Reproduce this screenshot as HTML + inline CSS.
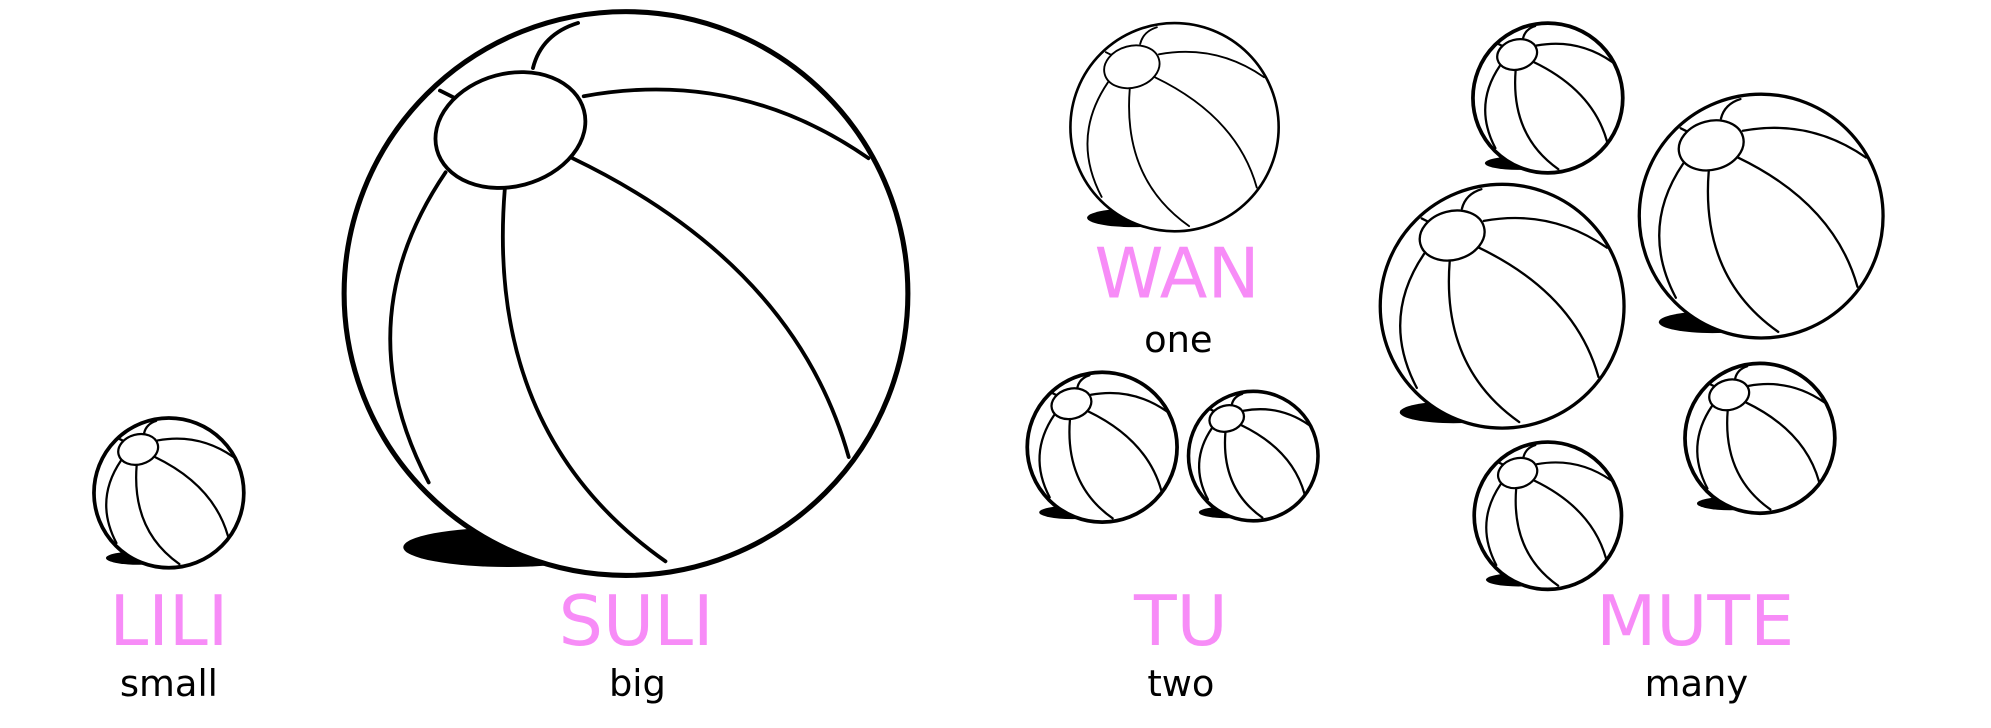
<!DOCTYPE html>
<html><head><meta charset="utf-8"><style>
html,body{margin:0;padding:0;background:#fff;}
svg{display:block;}
.p{fill:#f78cf7;font-family:"DejaVu Sans","Liberation Sans",sans-serif;text-anchor:middle;}
.b{fill:#000;font-family:"DejaVu Sans","Liberation Sans",sans-serif;text-anchor:middle;}
</style></head><body>
<svg width="1991" height="728" viewBox="0 0 1568 573" xmlns="http://www.w3.org/2000/svg">
<defs>
<g id="sh"><ellipse cx="-0.4" cy="0.87" rx="0.44" ry="0.09" fill="#000"/></g>
<g id="shb"><ellipse cx="-0.42" cy="0.9" rx="0.37" ry="0.07" fill="#000"/></g>
<g id="ol"><circle cx="0" cy="0" r="1" fill="#fff" stroke="#000"/></g>
<g id="in" fill="none" stroke="#000" stroke-linecap="round">
<path d="M-0.64,-0.43 Q-1.0,0.1 -0.70,0.67"/>
<path d="M-0.43,-0.37 Q-0.5,0.5 0.14,0.95"/>
<path d="M-0.19,-0.48 Q0.6,-0.1 0.79,0.58"/>
<path d="M-0.15,-0.7 Q0.4,-0.8 0.86,-0.48"/>
<path d="M-0.33,-0.8 Q-0.3,-0.92 -0.17,-0.96"/>
<path d="M-0.66,-0.72 L-0.6,-0.69"/>
<ellipse cx="-0.41" cy="-0.58" rx="0.27" ry="0.2" transform="rotate(-15 -0.41 -0.58)" fill="#fff"/>
</g>
</defs>
<g transform="translate(133,388) scale(59)"><use href="#sh"/><use href="#ol" stroke-width="0.05"/><use href="#in" stroke-width="0.03"/></g>
<g transform="translate(493,231) scale(222)"><use href="#shb"/><use href="#ol" stroke-width="0.018"/><use href="#in" stroke-width="0.0135"/></g>
<g transform="translate(925,100) scale(82)"><use href="#sh"/><use href="#ol" stroke-width="0.025"/><use href="#in" stroke-width="0.018"/></g>
<g transform="translate(868,352) scale(59)"><use href="#sh"/><use href="#ol" stroke-width="0.05"/><use href="#in" stroke-width="0.03"/></g>
<g transform="translate(987,359) scale(51)"><use href="#sh"/><use href="#ol" stroke-width="0.055"/><use href="#in" stroke-width="0.035"/></g>
<g transform="translate(1219,77) scale(59)"><use href="#sh"/><use href="#ol" stroke-width="0.05"/><use href="#in" stroke-width="0.03"/></g>
<g transform="translate(1387,170) scale(96)"><use href="#sh"/><use href="#ol" stroke-width="0.027"/><use href="#in" stroke-width="0.019"/></g>
<g transform="translate(1183,241) scale(96)"><use href="#sh"/><use href="#ol" stroke-width="0.027"/><use href="#in" stroke-width="0.019"/></g>
<g transform="translate(1386,345) scale(59)"><use href="#sh"/><use href="#ol" stroke-width="0.05"/><use href="#in" stroke-width="0.03"/></g>
<g transform="translate(1219,406) scale(58)"><use href="#sh"/><use href="#ol" stroke-width="0.05"/><use href="#in" stroke-width="0.03"/></g>

<text class="p" x="133" y="508" font-size="55">LILI</text>
<text class="b" x="133" y="548" font-size="29">small</text>
<text class="p" x="501" y="508" font-size="55">SULI</text>
<text class="b" x="502" y="548" font-size="29">big</text>
<text class="p" x="927" y="234" font-size="55">WAN</text>
<text class="b" x="928" y="277" font-size="29">one</text>
<text class="p" x="930" y="508" font-size="55">TU</text>
<text class="b" x="930" y="548" font-size="29">two</text>
<text class="p" x="1335" y="508" font-size="55">MUTE</text>
<text class="b" x="1336" y="548" font-size="29">many</text>
</svg>
</body></html>
